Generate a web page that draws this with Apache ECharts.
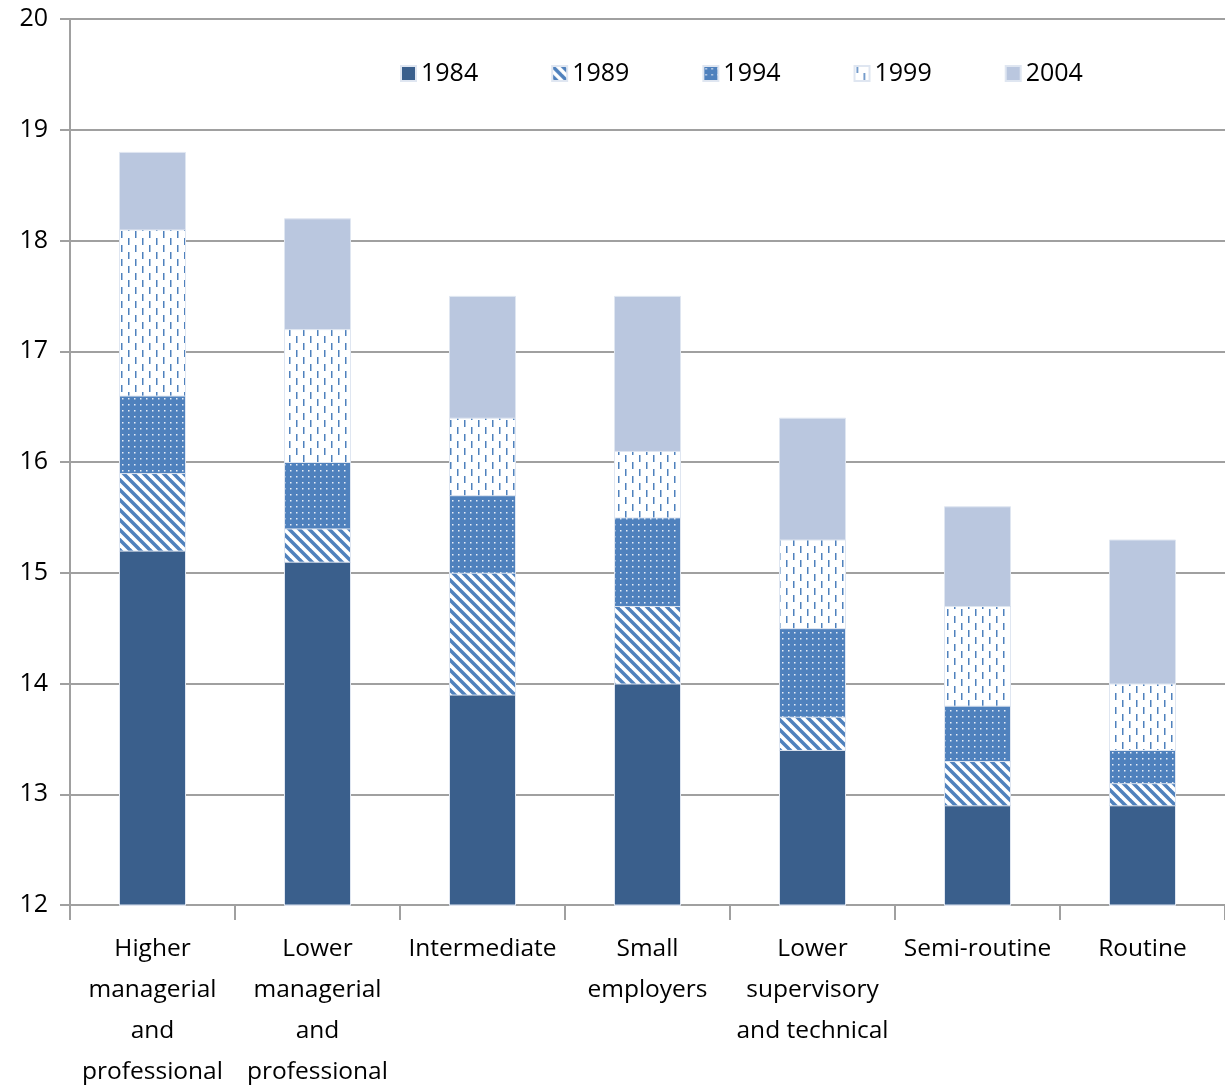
<!DOCTYPE html>
<html>
<head>
<meta charset="utf-8">
<script src="https://cdn.jsdelivr.net/npm/echarts@6/dist/echarts.min.js"></script>
<style>
    html, body { margin: 0; padding: 0; background: #fff; }
    #chart { width: 1225px; height: 1088px; }
</style>
</head>
<body>
<div id="chart"></div>
<script>
// categories (x axis)
var categories = [
    "Higher\nmanagerial\nand\nprofessional",
    "Lower\nmanagerial\nand\nprofessional",
    "Intermediate",
    "Small\nemployers",
    "Lower\nsupervisory\nand technical",
    "Semi-routine",
    "Routine"
];
var years = ["1984", "1989", "1994", "1999", "2004"];

// values per year (bars overlap, later years are taller)
var v1984 = [15.2, 15.1, 13.9, 14.0, 13.4, 12.9, 12.9];
var v1989 = [15.9, 15.4, 15.0, 14.7, 13.7, 13.3, 13.1];
var v1994 = [16.6, 16.0, 15.7, 15.5, 14.5, 13.8, 13.4];
var v1999 = [18.1, 17.2, 16.4, 16.1, 15.3, 14.7, 14.0];
var v2004 = [18.8, 18.2, 17.5, 17.5, 16.4, 15.6, 15.3];

var blue = "#4f81bd";
var font = "'Liberation Sans Narrow', 'Open Sans', sans-serif";

function makeCanvas(w, h) {
    var c = document.createElement("canvas");
    c.width = w;
    c.height = h;
    return c;
}

// white with blue "\" stripes
function stripePattern() {
    var c = makeCanvas(10, 10), ctx = c.getContext("2d");
    ctx.fillStyle = "#fff";
    ctx.fillRect(0, 0, 10, 10);
    ctx.strokeStyle = blue;
    ctx.lineWidth = 3.5;
    for (var k = -10; k <= 10; k += 10) {
        ctx.beginPath();
        ctx.moveTo(k - 2, -2);
        ctx.lineTo(k + 12, 12);
        ctx.stroke();
    }
    return c;
}

// blue with small white dots
function dotPattern() {
    var c = makeCanvas(6, 6), ctx = c.getContext("2d");
    ctx.fillStyle = blue;
    ctx.fillRect(0, 0, 6, 6);
    ctx.fillStyle = "#e8eef7";
    ctx.fillRect(2, 2, 1.5, 1.5);
    return c;
}

// white with short vertical blue dashes
function dashPattern() {
    var c = makeCanvas(14, 14), ctx = c.getContext("2d");
    ctx.fillStyle = "#fff";
    ctx.fillRect(0, 0, 14, 14);
    ctx.fillStyle = blue;
    ctx.fillRect(2, 0, 1.5, 7);
    ctx.fillRect(9, 7, 1.5, 7);
    return c;
}

var styles = {
    "1984": { color: "#3a5f8c" },
    "1989": { color: { image: stripePattern(), repeat: "repeat" } },
    "1994": { color: { image: dotPattern(), repeat: "repeat" } },
    "1999": { color: { image: dashPattern(), repeat: "repeat" } },
    "2004": { color: "#bac7df" }
};
var values = { "1984": v1984, "1989": v1989, "1994": v1994, "1999": v1999, "2004": v2004 };

// tallest first so shorter bars are drawn on top
var series = years.slice().reverse().map(function (y) {
    return {
        name: y,
        type: "bar",
        data: values[y],
        barWidth: 67,
        barGap: "-100%",
        itemStyle: {
            color: styles[y].color,
            borderColor: "#dfe6f1",
            borderWidth: 1
        }
    };
});

var chart = echarts.init(document.getElementById("chart"));
chart.setOption({
    animation: false,
    backgroundColor: "#fff",
    legend: {
        data: years,
        left: 395,
        top: 56,
        itemWidth: 15,
        itemHeight: 15,
        itemGap: 73,
        icon: "rect",
        textStyle: { fontFamily: font, fontSize: 25, color: "#000" }
    },
    grid: { left: 70, right: 0, top: 19, bottom: 183, outerBoundsMode: "none" },
    xAxis: {
        type: "category",
        data: categories,
        axisLine: { lineStyle: { color: "#a0a0a0", width: 2 } },
        axisTick: { show: true, length: 15, lineStyle: { color: "#a0a0a0", width: 2 } },
        axisLabel: {
            interval: 0,
            margin: 24,
            fontFamily: font,
            fontSize: 24.5,
            lineHeight: 41,
            color: "#000"
        }
    },
    yAxis: {
        type: "value",
        min: 12,
        max: 20,
        interval: 1,
        axisLine: { show: true, lineStyle: { color: "#a0a0a0", width: 2 } },
        axisTick: { show: true, length: 10, lineStyle: { color: "#a0a0a0", width: 2 } },
        splitLine: { lineStyle: { color: "#a0a0a0", width: 2 } },
        axisLabel: {
            margin: 22,
            fontFamily: font,
            fontSize: 25,
            color: "#000"
        }
    },
    series: series
});
</script>
</body>
</html>
